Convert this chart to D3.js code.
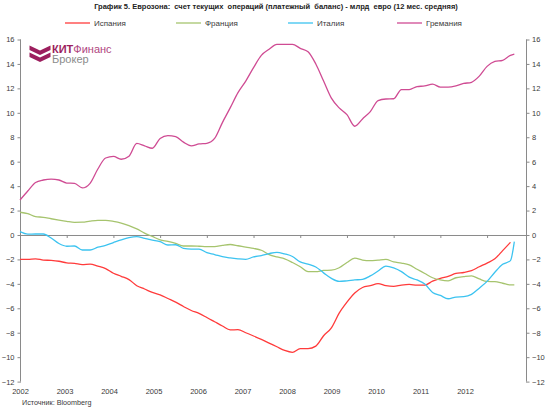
<!DOCTYPE html>
<html><head><meta charset="utf-8">
<script src="https://cdn.jsdelivr.net/npm/d3@7"></script>
<style>
body{margin:0;background:#fff;}
svg{display:block;font-family:"Liberation Sans",Arial,sans-serif;}
</style></head>
<body><svg id="c" width="550" height="410"></svg>
<script>
// Month offsets from Jan 2002
const monthIndex = [0,2,4,6,8,10,12,14,16,18,20,22,24,26,28,30,32,34,36,38,40,42,44,46,48,50,52,54,56,58,60,62,64,66,68,70,72,74,76,78,80,82,84,86,88,90,92,94,96,98,100,102,104,106,108,110,112,114,116,118,120,122,124,126,127];
const spain = [-1.99,-2.0,-1.95,-2.05,-2.08,-2.15,-2.28,-2.32,-2.42,-2.38,-2.55,-2.75,-3.13,-3.38,-3.65,-4.15,-4.42,-4.7,-4.9,-5.2,-5.5,-5.85,-6.18,-6.42,-6.75,-7.1,-7.45,-7.77,-7.75,-8.0,-8.27,-8.55,-8.85,-9.15,-9.45,-9.6,-9.3,-9.3,-9.1,-8.25,-7.6,-6.4,-5.5,-4.75,-4.3,-4.15,-3.98,-4.15,-4.2,-4.1,-4.05,-4.1,-4.1,-3.78,-3.55,-3.38,-3.15,-3.07,-2.92,-2.6,-2.3,-1.95,-1.28,-0.6,null];
const france = [1.86,1.75,1.5,1.45,1.33,1.22,1.12,1.04,1.05,1.14,1.2,1.2,1.12,0.98,0.76,0.5,0.15,-0.12,-0.4,-0.52,-0.68,-0.9,-0.9,-0.92,-0.95,-0.95,-0.85,-0.78,-0.88,-1.0,-1.1,-1.25,-1.6,-1.8,-1.95,-2.25,-2.6,-3.0,-3.0,-2.9,-2.88,-2.68,-2.25,-1.9,-2.05,-2.1,-2.05,-2.0,-2.2,-2.3,-2.45,-2.8,-3.15,-3.5,-3.68,-3.75,-3.5,-3.41,-3.35,-3.6,-3.8,-3.82,-3.95,-4.09,-4.09];
const italy = [0.27,0.07,0.08,0.08,-0.25,-0.7,-0.92,-0.9,-1.23,-1.23,-1.0,-0.85,-0.62,-0.4,-0.22,-0.14,-0.28,-0.42,-0.55,-0.82,-0.8,-1.09,-1.15,-1.15,-1.45,-1.6,-1.78,-1.88,-1.95,-1.99,-1.8,-1.68,-1.52,-1.42,-1.55,-1.76,-2.2,-2.38,-2.62,-3.1,-3.55,-3.8,-3.75,-3.68,-3.63,-3.35,-2.95,-2.55,-2.7,-3.0,-3.45,-3.68,-4.01,-4.7,-4.95,-5.22,-5.08,-5.05,-4.86,-4.35,-3.8,-3.05,-2.4,-2.1,-0.55];
const germany = [2.86,3.6,4.3,4.5,4.58,4.5,4.25,4.23,3.85,4.23,5.4,6.3,6.43,6.2,6.45,7.5,7.3,7.1,7.9,8.13,8.05,7.6,7.3,7.45,7.5,7.9,9.2,10.4,11.65,12.6,13.7,14.7,15.2,15.6,15.6,15.6,15.28,15.0,14.0,12.6,11.2,10.4,9.85,8.9,9.5,10.1,11.0,11.13,11.15,11.9,11.9,12.15,12.2,12.35,12.1,12.1,12.2,12.4,12.5,13.0,13.8,14.2,14.3,14.7,14.8];
const seriesNames = ["Испания","Франция","Италия","Гремания"];
const seriesColors = ["#ff3b3b","#a6c46e","#3cc3f0","#cf4b93"];
const years = ["2002","2003","2004","2005","2006","2007","2008","2009","2010","2011","2012"];
const yearTickMonths = [0,12,24,36,48,60,72,84,96,108,120];
const yTicks = [-12,-10,-8,-6,-4,-2,0,2,4,6,8,10,12,14,16];
const titleText = "График 5. Еврозона:  счет текущих  операций (платежный  баланс) - млрд  евро (12 мес. средняя)";
const sourceText = "Источник: Bloomberg";

const svg = d3.select("#c");
const L = 21, R = 526, T = 39.5, B = 381.6;
const x = d3.scaleLinear().domain([0,130]).range([20, R]);
const y = d3.scaleLinear().domain([-12,16]).range([B, T]);
const axisColor = "#8a8a8a", textColor = "#3a3a3a";

// Title
svg.append("text").attr("x",276).attr("y",9).attr("text-anchor","middle")
  .attr("font-size",7.5).attr("font-weight","bold").attr("fill","#222")
  .style("white-space","pre").text(titleText);

// Legend
const legX = [65,176,288,397];
seriesNames.forEach((n,i)=>{
  const g = svg.append("g").attr("transform",`translate(${legX[i]},23)`);
  g.append("line").attr("x1",0).attr("x2",25).attr("y1",0).attr("y2",0)
    .attr("stroke",seriesColors[i]).attr("stroke-width",1.3);
  g.append("text").attr("x",29).attr("y",3).attr("font-size",8).attr("fill",textColor).text(n);
});

// Left axis
const yl = svg.append("g").attr("transform",`translate(${L},0)`)
  .call(d3.axisLeft(y).tickValues(yTicks).tickSize(3.5).tickPadding(3));
yl.select(".domain").attr("stroke",axisColor).attr("d",`M-0.5,${T}V${B}`);
yl.selectAll(".tick line").attr("stroke",axisColor);
yl.selectAll(".tick text").attr("font-size",7.5).attr("fill",textColor).attr("font-family","Liberation Sans, Arial, sans-serif");

// Right axis
const yr = svg.append("g").attr("transform",`translate(${R},0)`)
  .call(d3.axisRight(y).tickValues(yTicks).tickSize(3.5).tickPadding(2.5));
yr.select(".domain").attr("stroke",axisColor).attr("d",`M0.5,${T}V${B}`);
yr.selectAll(".tick line").attr("stroke",axisColor);
yr.selectAll(".tick text").attr("font-size",7.5).attr("fill",textColor).attr("font-family","Liberation Sans, Arial, sans-serif");

// Zero line x-axis with ticks
const xa = svg.append("g").attr("transform",`translate(0,${y(0)})`)
  .call(d3.axisBottom(x).tickValues(yearTickMonths).tickSize(3).tickFormat(""));
xa.select(".domain").attr("stroke",axisColor).attr("d",`M${L},0.5H${R}`);
xa.selectAll(".tick line").attr("stroke",axisColor);

// Year labels (bottom)
const xl = d3.scalePoint().domain(years).range([20.5,465.5]);
svg.append("g").selectAll("text").data(years).join("text")
  .attr("x",d=>xl(d)).attr("y",394).attr("text-anchor","middle")
  .attr("font-size",7.5).attr("fill",textColor).text(d=>d);

// Source
svg.append("text").attr("x",22).attr("y",405).attr("font-size",7.2).attr("fill",textColor).text(sourceText);

// Lines
const allSeries = [spain, france, italy, germany];
const line = d3.line().defined(d=>d[1]!==null)
  .x(d=>x(d[0])).y(d=>y(d[1])).curve(d3.curveMonotoneX);
allSeries.forEach((vals,i)=>{
  const pts = monthIndex.map((m,j)=>[m, vals[j]]);
  svg.append("path").attr("d",line(pts)).attr("fill","none")
    .attr("stroke",seriesColors[i]).attr("stroke-width",1.3).attr("stroke-linejoin","round");
});

// Logo
const logo = svg.append("g");
const lc = "#9c1f5e";
logo.append("path").attr("fill",lc)
  .attr("d","M29.5,45.5 L40,50.5 L50.5,45.5 L50.5,50 L40,55 L29.5,50 Z");
logo.append("path").attr("fill",lc)
  .attr("d","M29.5,52.5 L40,57.5 L50.5,52.5 L50.5,57 L40,62 L29.5,57 Z");
const t1 = logo.append("text").attr("x",52).attr("y",52.5).attr("font-size",11);
t1.append("tspan").attr("font-weight","bold").attr("fill",lc).text("КИТ");
t1.append("tspan").attr("fill","#b04680").text("Финанс");
logo.append("text").attr("x",52).attr("y",63).attr("font-size",11).attr("fill","#8b8b8b").text("Брокер");
</script></body></html>
